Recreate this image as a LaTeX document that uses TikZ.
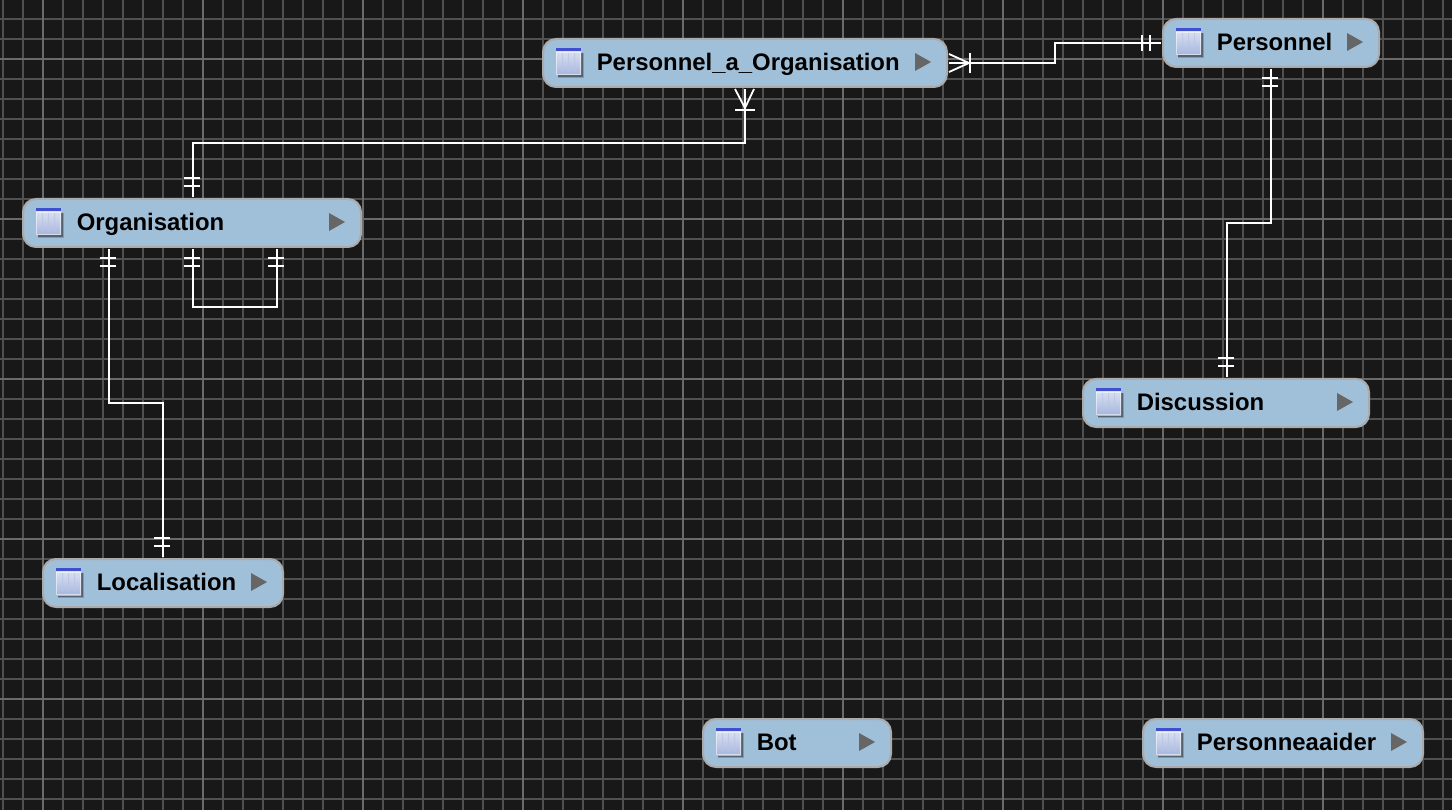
\documentclass[tikz,border=0pt]{standalone}
\usepackage{fontspec}
\setmainfont{Liberation Sans}
\usetikzlibrary{calc}
\definecolor{bgc}{HTML}{181818}
\definecolor{gridc}{HTML}{505050}
\definecolor{gridm}{HTML}{6A6A6A}
\definecolor{ent}{HTML}{A0BFD8}
\definecolor{entb}{HTML}{ABABAB}
\definecolor{iconbar}{HTML}{3F4FD0}
\definecolor{icontop}{HTML}{DDE4F3}
\definecolor{iconbot}{HTML}{A8B6DE}
\definecolor{stripe}{HTML}{B9C4E2}
\definecolor{iconshadow}{HTML}{4A5560}
\definecolor{tri}{HTML}{666666}
\tikzset{
  x=1pt,y=-1pt,
  entity/.style={draw=entb,fill=ent,line width=2pt,rounded corners=13pt,minimum height=48pt,inner sep=0pt,anchor=north west},
  enttext/.style={font=\bfseries\fontsize{23.9}{24}\selectfont,text=black,anchor=base west,inner sep=0pt},
  link/.style={draw=white,line width=2pt},
  tick/.style={draw=white,line width=1.8pt},
  crow/.style={draw=white,line width=1.8pt},
}
% \ent{name}{left}{top}{right}{label}
\newcommand{\ent}[5]{%
  \pgfmathsetmacro{\entw}{#4-#2}%
  \node[entity,minimum width=\entw pt] (#1) at (#2,#3) {};
  \begin{scope}[shift={(#1.west)}]
    \fill[iconshadow,opacity=.35] (16,-10) rectangle (42,15);
    \fill[iconshadow,opacity=.8] (16,-10) rectangle (41,14);
    \shade[top color=icontop,bottom color=iconbot] (14,-14) rectangle (39,12);
    \fill[stripe,opacity=.7] (20,-10) rectangle (21,9) (26,-10) rectangle (27,9) (32,-10) rectangle (33,9);
    \draw[white,opacity=.5,line width=.8pt] (14.5,-11) rectangle (38.5,11.5);
    \fill[iconbar] (14,-15) rectangle (39,-12);
    \node[enttext] (#1text) at (54.6,7.5) {#5};
  \end{scope}
  \fill[tri] ($(#1.east)+(-33,-10)$) -- ($(#1.east)+(-17,-1)$) -- ($(#1.east)+(-33,8)$) -- cycle;
}
% two bars across a vertical line; bars are centred 1 unit left of the line
\newcommand{\vbars}[2]{\draw[tick] ($(#1)+(-9,#2-4)$) -- ($(#1)+(7,#2-4)$) ($(#1)+(-9,#2+4)$) -- ($(#1)+(7,#2+4)$);}
\begin{document}
\begin{tikzpicture}
\useasboundingbox (0,0) rectangle (1452,810);
\fill[bgc] (0,0) rectangle (1452,810);
\foreach \k in {0,...,72}{\draw[gridc,line width=2pt] ({3+20*\k},0) -- ({3+20*\k},810);}
\foreach \k in {0,...,40}{\draw[gridc,line width=2pt] (0,{20*\k-1}) -- (1452,{20*\k-1});}
\foreach \k in {0,...,9}{\draw[gridm,line width=2pt] ({43+160*\k},0) -- ({43+160*\k},810);}
\foreach \k in {0,...,5}{\draw[gridm,line width=2pt] (0,{59+160*\k}) -- (1452,{59+160*\k});}

\begin{scope}[shift={(-1,-1)}]
\ent{pao}{543}{39}{947}{Personnel\_a\_Organisation}
\ent{pers}{1163}{19}{1379}{Personnel}
\ent{org}{23}{199}{361}{Organisation}
\ent{disc}{1083}{379}{1369}{Discussion}
\ent{loc}{43}{559}{283}{Localisation}
\ent{bot}{703}{719}{891}{Bot}
\ent{paid}{1143}{719}{1423}{Personneaaider}

\coordinate (orgA) at ($(org.south west)!.25!(org.south east)+(1.5,1)$);
\coordinate (orgB) at ($(org.south west)!.5!(org.south east)+(1,1)$);
\coordinate (orgC) at ($(org.south west)!.75!(org.south east)+(0,1)$);
\coordinate (orgT) at ($(org.north)+(1,-1)$);
\coordinate (paoS) at ($(pao.south)+(0,1)$);
\coordinate (paoE) at ($(pao.east)+(1,0)$);
\coordinate (persW) at ($(pers.west)+(-1,0)$);
\coordinate (persS) at ($(pers.south)+(0,1)$);
\coordinate (discN) at ($(disc.north)+(1,-1)$);
\coordinate (locN) at ($(loc.north)+(0,-1)$);
\coordinate (rOP) at (0,144);
\coordinate (rPP) at (1056,0);
\coordinate (rPD) at (0,224);
\coordinate (rOL) at (0,404);
\coordinate (rOO) at (0,308);

\draw[link] (orgT) -- (orgT |- rOP) -- (paoS |- rOP) -- (paoS);
\draw[link] (paoE) -- (paoE -| rPP) -- (persW -| rPP) -- (persW);
\draw[link] (persS) -- (persS |- rPD) -- (discN |- rPD) -- (discN);
\draw[link] (orgA) -- (orgA |- rOL) -- (locN |- rOL) -- (locN);
\draw[link] (orgB) -- (orgB |- rOO) -- (orgC |- rOO) -- (orgC);

\vbars{orgT}{-15}
\vbars{orgA}{13}
\vbars{orgB}{13}
\vbars{orgC}{13}
\vbars{locN}{-15}
\vbars{discN}{-15}
\vbars{persS}{13}
\draw[tick] ($(persW)+(-19,-8)$) -- ($(persW)+(-19,8)$) ($(persW)+(-11,-8)$) -- ($(persW)+(-11,8)$);
\draw[crow] ($(paoS)+(-10,0)$) -- ($(paoS)+(0,19)$) -- ($(paoS)+(9,0)$);
\draw[tick] ($(paoS)+(-10,21)$) -- ($(paoS)+(10,21)$);
\draw[crow] ($(paoE)+(0,-9)$) -- ($(paoE)+(20,0)$) -- ($(paoE)+(0,9)$);
\draw[tick] ($(paoE)+(21,-10)$) -- ($(paoE)+(21,10)$);
\end{scope}
\end{tikzpicture}
\end{document}
